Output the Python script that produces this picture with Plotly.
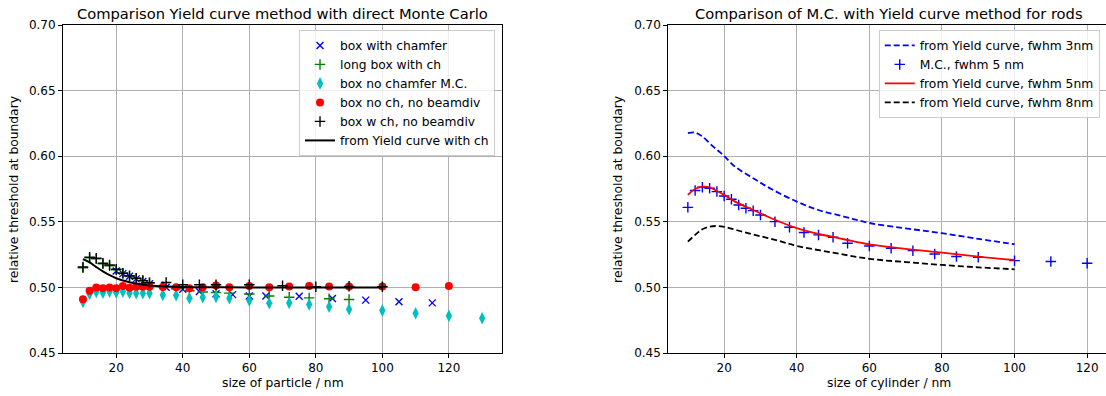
import plotly.graph_objects as go

# ---------------- left panel data ----------------
x_blue = [20, 22, 24, 26, 28, 30, 35, 40, 45, 50, 55, 60, 65, 75, 85, 95, 105, 115]
y_blue = [0.5125, 0.5105, 0.5085, 0.5065, 0.5045, 0.5028, 0.5001, 0.4986, 0.4968, 0.4952,
          0.4945, 0.4935, 0.4935, 0.4933, 0.4915, 0.4903, 0.4890, 0.4882]

x_green = [10, 12, 14, 16, 18, 20, 22, 24, 26, 28, 30, 34, 38, 42, 46, 50, 54, 60, 66, 72, 78, 84, 90]
y_green = [0.5150, 0.5225, 0.5218, 0.5180, 0.5165, 0.5135, 0.5108, 0.5088, 0.5068, 0.5050,
           0.5033, 0.5005, 0.4990, 0.4975, 0.4965, 0.4960, 0.4956, 0.4950, 0.4935, 0.4925,
           0.4920, 0.4913, 0.4908]

x_cyan = [10, 12, 14, 16, 18, 20, 22, 24, 26, 28, 30, 34, 38, 42, 46, 50, 54, 60, 66, 72, 78,
          84, 90, 100, 110, 120, 130]
y_cyan = [0.4890, 0.4950, 0.4965, 0.4960, 0.4968, 0.4962, 0.4968, 0.4958, 0.4955, 0.4955,
          0.4955, 0.4943, 0.4940, 0.4918, 0.4925, 0.4928, 0.4917, 0.4900, 0.4880, 0.4882,
          0.4870, 0.4853, 0.4833, 0.4823, 0.4803, 0.4783, 0.4765]

x_red = [10, 12, 14, 16, 18, 20, 22, 24, 26, 28, 30, 34, 38, 42, 46, 50, 54, 60, 66, 72, 78,
         84, 90, 100, 110, 120]
y_red = [0.4910, 0.4975, 0.5000, 0.4994, 0.5000, 0.4994, 0.5010, 0.4998, 0.5005, 0.5005,
         0.5005, 0.5004, 0.5001, 0.4994, 0.5001, 0.5014, 0.5001, 0.5010, 0.5001, 0.5006,
         0.5011, 0.5006, 0.5006, 0.5006, 0.5001, 0.5011]

x_black = [10, 12, 14, 16, 18, 20, 22, 24, 26, 28, 30, 35, 40, 45, 50, 60, 70, 80, 90, 100]
y_black = [0.5155, 0.5230, 0.5222, 0.5184, 0.5171, 0.5138, 0.5108, 0.5087, 0.5070, 0.5052,
           0.5036, 0.5037, 0.5020, 0.5020, 0.5020, 0.5020, 0.5013, 0.5005, 0.5008, 0.5005]

x_yield = [10, 12, 14, 16, 18, 20, 22, 24, 26, 28, 30, 35, 40, 50, 60, 80, 100]
y_yield = [0.5215, 0.5190, 0.5155, 0.5122, 0.5093, 0.5070, 0.5052, 0.5040, 0.5030, 0.5022,
           0.5015, 0.5007, 0.5003, 0.5001, 0.5000, 0.5000, 0.5000]

# ---------------- right panel data ----------------
x_f3 = [10, 12, 14, 17, 20, 23, 28, 33, 40, 46, 53, 60, 70, 80, 90, 100]
y_f3 = [0.6175, 0.6180, 0.6150, 0.6073, 0.6002, 0.5920, 0.5832, 0.5750, 0.5654, 0.5590,
        0.5540, 0.5491, 0.5450, 0.5413, 0.5370, 0.5329]

x_mc = [10, 12, 14, 16, 18, 20, 22, 24, 26, 28, 30, 34, 38, 42, 46, 50, 54, 60, 66, 72, 78,
        84, 90, 100, 110, 120]
y_mc = [0.5610, 0.5738, 0.5763, 0.5756, 0.5730, 0.5697, 0.5672, 0.5628, 0.5603, 0.5585,
        0.5552, 0.5501, 0.5458, 0.5418, 0.5400, 0.5382, 0.5337, 0.5316, 0.5298, 0.5280,
        0.5255, 0.5235, 0.5230, 0.5204, 0.5197, 0.5184]

x_f5 = [10, 12, 14, 16, 18, 20, 23, 28, 33, 40, 46, 53, 60, 70, 80, 90, 100]
y_f5 = [0.5705, 0.5750, 0.5768, 0.5763, 0.5735, 0.5705, 0.5654, 0.5590, 0.5527, 0.5451,
        0.5407, 0.5367, 0.5328, 0.5293, 0.5265, 0.5235, 0.5209]

x_f8 = [10, 12, 14, 16, 18, 20, 25, 30, 35, 40, 50, 60, 70, 80, 90, 100]
y_f8 = [0.5349, 0.5400, 0.5443, 0.5463, 0.5468, 0.5462, 0.5425, 0.5390, 0.5355, 0.5316,
        0.5265, 0.5218, 0.5193, 0.5171, 0.5153, 0.5138]

y_ticks = [0.45, 0.50, 0.55, 0.60, 0.65, 0.70]
x_ticks = [20, 40, 60, 80, 100, 120]

FONT = "DejaVu Sans"
BLUE, GREEN, CYAN, RED, BLACK = "#0000ff", "#008000", "#00bfbf", "#ff0000", "#000000"
TXT = 12.3

fig = go.Figure()

# left panel
fig.add_trace(go.Scatter(x=x_blue, y=y_blue, mode="markers", name="box with chamfer",
                         marker=dict(symbol="x-thin-open", size=7, color=BLUE,
                                     line=dict(color=BLUE, width=1.4)),
                         xaxis="x", yaxis="y", legend="legend"))
fig.add_trace(go.Scatter(x=x_green, y=y_green, mode="markers", name="long box with ch",
                         marker=dict(symbol="cross-thin-open", size=7.5, color=GREEN,
                                     line=dict(color=GREEN, width=1.4)),
                         xaxis="x", yaxis="y", legend="legend"))
fig.add_trace(go.Scatter(x=x_cyan, y=y_cyan, mode="markers", name="box no chamfer M.C.",
                         marker=dict(symbol="diamond-tall", size=9, color=CYAN,
                                     line=dict(width=0)),
                         xaxis="x", yaxis="y", legend="legend"))
fig.add_trace(go.Scatter(x=x_red, y=y_red, mode="markers", name="box no ch, no beamdiv",
                         marker=dict(symbol="circle", size=8, color=RED, line=dict(width=0)),
                         xaxis="x", yaxis="y", legend="legend"))
fig.add_trace(go.Scatter(x=x_black, y=y_black, mode="markers", name="box w ch, no beamdiv",
                         marker=dict(symbol="cross-thin-open", size=7.5, color=BLACK,
                                     line=dict(color=BLACK, width=1.4)),
                         xaxis="x", yaxis="y", legend="legend"))
fig.add_trace(go.Scatter(x=x_yield, y=y_yield, mode="lines", name="from Yield curve with ch",
                         line=dict(color=BLACK, width=2, shape="spline"),
                         xaxis="x", yaxis="y", legend="legend"))

# right panel
fig.add_trace(go.Scatter(x=x_f3, y=y_f3, mode="lines", name="from Yield curve, fwhm 3nm",
                         line=dict(color=BLUE, width=1.8, dash="6px,3px", shape="spline"),
                         xaxis="x2", yaxis="y2", legend="legend2"))
fig.add_trace(go.Scatter(x=x_mc, y=y_mc, mode="markers", name="M.C., fwhm 5 nm",
                         marker=dict(symbol="cross-thin-open", size=7.5, color=BLUE,
                                     line=dict(color=BLUE, width=1.4)),
                         xaxis="x2", yaxis="y2", legend="legend2"))
fig.add_trace(go.Scatter(x=x_f5, y=y_f5, mode="lines", name="from Yield curve, fwhm 5nm",
                         line=dict(color=RED, width=1.8, shape="spline"),
                         xaxis="x2", yaxis="y2", legend="legend2"))
fig.add_trace(go.Scatter(x=x_f8, y=y_f8, mode="lines", name="from Yield curve, fwhm 8nm",
                         line=dict(color=BLACK, width=1.8, dash="6px,3px", shape="spline"),
                         xaxis="x2", yaxis="y2", legend="legend2"))

axis_common = dict(showgrid=True, gridcolor="#b0b0b0", gridwidth=1, zeroline=False,
                   showline=True, linecolor="black", linewidth=1, mirror=True,
                   ticks="outside", ticklen=4, tickwidth=1, tickcolor="black",
                   tickfont=dict(family=FONT, size=12, color="black"))

fig.update_layout(
    width=1106, height=396,
    margin=dict(l=63, r=0, t=25, b=43),
    paper_bgcolor="white", plot_bgcolor="white",
    font=dict(family=FONT, size=TXT, color="black"),
    xaxis=dict(domain=[0.0, 0.421], range=[4, 136], tickvals=x_ticks, anchor="y", **axis_common),
    yaxis=dict(domain=[0, 1], range=[0.45, 0.70], tickvals=y_ticks, tickformat=".2f",
               anchor="x", **axis_common),
    xaxis2=dict(domain=[0.5803, 1.0], range=[4.6, 125.2], tickvals=x_ticks, anchor="y2",
                **axis_common),
    yaxis2=dict(domain=[0, 1], range=[0.45, 0.70], tickvals=y_ticks, tickformat=".2f",
                anchor="x2", **axis_common),
    legend=dict(x=0.4142, y=0.985, xanchor="right", yanchor="top",
                bgcolor="rgba(255,255,255,0.8)", bordercolor="#cccccc", borderwidth=1,
                font=dict(family=FONT, size=TXT, color="black"), tracegroupgap=0),
    legend2=dict(x=0.994, y=0.985, xanchor="right", yanchor="top",
                 bgcolor="rgba(255,255,255,0.8)", bordercolor="#cccccc", borderwidth=1,
                 font=dict(family=FONT, size=TXT, color="black"), tracegroupgap=0),
    annotations=[
        dict(text="Comparison Yield curve method with direct Monte Carlo", x=0.2105, y=1,
             xref="paper", yref="paper", xanchor="center", yanchor="middle", yshift=12,
             showarrow=False, font=dict(family=FONT, size=14.7, color="black")),
        dict(text="Comparison of M.C. with Yield curve method for rods", x=0.7920, y=1,
             xref="paper", yref="paper", xanchor="center", yanchor="middle", yshift=12,
             showarrow=False, font=dict(family=FONT, size=14.7, color="black")),
        dict(text="size of particle / nm", x=0.2105, y=-0.0915, xref="paper", yref="paper",
             xanchor="center", yanchor="middle", showarrow=False,
             font=dict(family=FONT, size=TXT, color="black")),
        dict(text="size of cylinder / nm", x=0.7920, y=-0.0915, xref="paper", yref="paper",
             xanchor="center", yanchor="middle", showarrow=False,
             font=dict(family=FONT, size=TXT, color="black")),
        dict(text="relative threshold at boundary", x=-0.047, y=0.5, xref="paper",
             yref="paper", xanchor="center", yanchor="middle", textangle=-90,
             showarrow=False, font=dict(family=FONT, size=TXT, color="black")),
        dict(text="relative threshold at boundary", x=0.532, y=0.5, xref="paper",
             yref="paper", xanchor="center", yanchor="middle", textangle=-90,
             showarrow=False, font=dict(family=FONT, size=TXT, color="black")),
    ],
)

# remove the default 8px page margin so the figure fills the window exactly
fig.write_html("out.html",
               config={"displayModeBar": False},
               post_script="document.body.style.margin='0';document.body.style.overflow='hidden';")
